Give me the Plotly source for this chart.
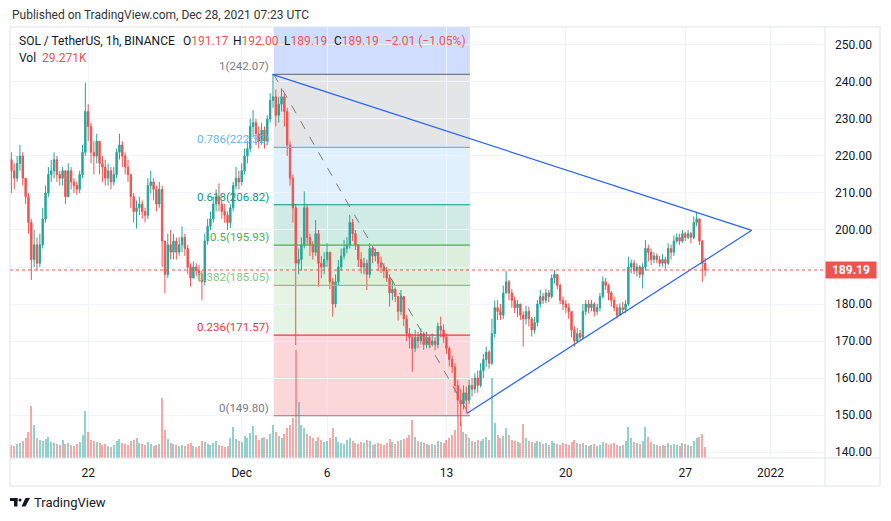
import pandas as pd
import plotly.graph_objects as go

# SOL/USDT, shown here as 4h candles (Nov 17 12:00 -> Dec 28 04:00 UTC)
first_open = 219
close = [216, 214, 218, 220, 214, 209, 202, 192, 196, 191,
         196, 203, 210, 215, 216, 219, 215, 214, 216, 209,
         216, 213, 212, 211, 215, 221, 232, 228, 221, 220,
         224, 218, 217, 214, 216, 213, 215, 221, 223, 220,
         217, 215, 209, 205, 206, 207, 205, 204, 212, 213,
         211, 207, 211, 197, 188, 196, 194, 197, 194, 196,
         198, 195, 190, 187, 190, 189, 188, 186, 197, 201,
         203, 207, 209, 207, 205, 204, 202, 206, 212, 214,
         213, 216, 220, 222, 228, 229, 226, 224, 227, 224,
         230, 235, 236, 231, 234, 236, 232, 223, 214, 206,
         191, 192, 196, 206, 198, 196, 194, 199, 191, 190,
         192, 194, 186, 180, 186, 190, 193, 195, 196, 202,
         199, 196, 192, 190, 191, 188, 195, 193, 194, 191,
         190, 189, 187, 183, 184, 182, 178, 182, 176, 172,
         171, 168, 171, 170, 172, 169, 171, 169, 170, 169,
         174, 173, 171, 168, 165, 163, 158, 154, 153, 156,
         154, 158, 157, 160, 158, 162, 165, 167, 164, 172,
         179, 178, 177, 183, 186, 183, 181, 179, 180, 177,
         176, 178, 176, 173, 175, 180, 182, 181, 183, 182,
         187, 188, 185, 181, 180, 179, 178, 173, 170, 172,
         171, 178, 180, 179, 180, 178, 179, 182, 186, 185,
         183, 181, 179, 177, 179, 178.5, 180, 190, 191, 189,
         190, 188, 190, 195, 194, 192, 193, 192, 191, 192,
         191, 195, 194, 197, 198, 197, 199, 198, 199, 198,
         202, 203, 197, 191, 189.19]
high = [221, 218, 220, 223, 221, 214, 210, 203, 200, 198,
        199, 206, 212, 217, 219, 221, 220, 216, 217, 216,
        218, 217, 214, 213, 216, 223, 239.8, 234, 229, 224,
        226, 224, 220, 219, 218, 217, 217, 222, 226, 224,
        221, 219, 215, 210, 208, 209, 208, 206, 214, 216,
        214, 212, 213, 212, 197, 199, 200, 199, 198, 198,
        201, 199, 196, 191, 191.5, 191, 190.5, 189, 199, 203,
        205, 209, 211, 212.6, 208, 207, 205, 207, 213, 217,
        216, 218, 222, 224, 230, 232.4, 230, 228, 229, 228,
        231, 237, 242.07, 238, 236, 238.3, 237, 233, 224, 215,
        207, 195, 198, 210.4, 207, 199, 197, 202.7, 200, 193,
        194, 196.4, 194, 187, 188, 191.9, 195, 197.3, 198, 204.1,
        203, 200, 196, 194, 192.5, 192, 196.4, 195.5, 195, 194,
        192.8, 191, 190, 188, 186.5, 184.5, 182, 183.8, 182, 177,
        173.5, 172, 173, 172.5, 173.5, 172.5, 172.5, 171.5, 172, 171,
        175, 176.6, 174.5, 172, 168.5, 166, 164, 159.5, 157, 158,
        157.7, 159.5, 160, 161.3, 162, 164, 166.5, 168.5, 167.5, 176,
        181, 181.1, 180, 185, 188.9, 186.5, 184, 182, 181.1, 180,
        178, 179.5, 179.3, 176.5, 176.5, 181.1, 183.8, 183, 184, 183.8,
        188, 189.2, 188, 185.5, 182, 181, 180.2, 178, 174, 173.5,
        173, 180, 181.1, 181, 181.1, 180.5, 180, 183, 187.4, 187,
        185.5, 183.5, 182, 180, 180.2, 180.5, 181, 192.8, 192, 191.9,
        191, 190.5, 191, 197.3, 196, 195, 194, 193.7, 193, 193.5,
        192.8, 196.4, 196, 198.5, 199.1, 199, 200, 199.5, 200, 199.5,
        203.6, 204.9, 203, 197.3, 192.5]
low = [210, 211, 213, 216, 212, 207, 199, 186.5, 190, 189,
       190, 195, 202, 209, 213, 214, 213, 212, 212, 207,
       209, 211, 210, 209.5, 210, 214, 220, 224, 218, 215,
       218, 215, 213, 212, 212, 211, 212, 214, 219, 217,
       215, 213, 206, 202, 200.4, 204, 203, 202, 203, 210,
       208, 205, 206, 190, 182.9, 187, 192, 192, 192, 193,
       194, 193, 188, 184.7, 187, 187.5, 186, 181, 185, 196,
       200, 202, 205, 205, 203, 202, 200, 200.5, 205, 211,
       211, 212, 215, 218, 221, 225, 223, 222, 223, 222,
       223, 229, 233, 228, 229, 232, 228, 220, 212, 202,
       168.9, 188, 189, 195, 196, 193, 192, 193, 184.7, 187,
       188, 190, 184, 176.6, 179, 185, 189, 192, 193.7, 195,
       197, 194.6, 190, 188.3, 188, 183.8, 187, 191, 191.5, 189,
       188.3, 187, 186, 179.3, 181, 180.5, 175.5, 177, 174, 170,
       168, 161.7, 167, 168, 169, 167.6, 168, 168, 168.5, 167.5,
       168, 171, 169.5, 166.5, 163.1, 161.3, 156, 149.8, 147, 151.5,
       150.5, 153, 155, 155.9, 156, 157.5, 160, 163, 162.5, 163.5,
       171, 175.7, 175.7, 176, 182.9, 181, 179, 177.5, 176.5, 175.7,
       168.5, 174.5, 173.9, 171.2, 172, 174, 179, 180, 180.2, 180.5,
       181.5, 185.5, 184, 180, 178.4, 177.5, 176, 171, 168.5, 169.5,
       170.3, 170.5, 177, 177.5, 178, 176.6, 177, 178, 181.5, 183.8,
       181, 179.3, 178, 176.1, 177, 177.5, 177.5, 179.5, 188.3, 188,
       187.4, 187, 184.2, 189, 191.5, 190.5, 191, 191, 190, 190.1,
       189.5, 190.5, 192, 193, 196.4, 196, 196.5, 197, 197.5, 196.4,
       197.5, 201, 196, 186, 187.5]
# volume per candle, thousands of SOL
volume = [130, 120, 140, 150, 170, 200, 260, 520, 330, 200,
          180, 170, 190, 210, 160, 150, 140, 130, 180, 140,
          150, 130, 120, 140, 160, 230, 470, 260, 180, 170,
          160, 150, 130, 140, 120, 110, 130, 170, 190, 150,
          140, 130, 170, 180, 200, 150, 140, 130, 160, 140,
          120, 130, 140, 600, 280, 190, 150, 140, 130, 120,
          130, 120, 140, 150, 120, 110, 120, 170, 160, 140,
          130, 150, 170, 130, 120, 110, 120, 200, 310, 190,
          170, 160, 220, 200, 250, 320, 230, 180, 200, 210,
          190, 240, 330, 260, 220, 200, 240, 300, 330, 400,
          1080, 560, 330, 300, 240, 220, 200, 170, 210, 180,
          160, 170, 200, 300, 210, 160, 150, 140, 180, 200,
          170, 150, 140, 160, 150, 180, 170, 130, 140, 150,
          140, 130, 150, 190, 160, 140, 170, 180, 190, 200,
          230, 380, 210, 170, 160, 150, 140, 130, 140, 130,
          170, 160, 150, 180, 200, 230, 280, 420, 360, 260,
          240, 200, 170, 160, 180, 170, 190, 210, 180, 800,
          350, 230, 200, 220, 300, 230, 180, 170, 160, 150,
          340, 200, 170, 160, 150, 170, 160, 140, 150, 130,
          170, 150, 140, 130, 150, 140, 130, 160, 180, 150,
          140, 150, 130, 120, 130, 140, 120, 130, 160, 150,
          130, 140, 150, 130, 120, 130, 170, 310, 200, 160,
          150, 140, 170, 310, 210, 160, 140, 130, 120, 130,
          120, 150, 130, 140, 130, 120, 150, 140, 130, 120,
          170, 200, 210, 240, 110]

last_price = 189.19

# fib retracement drawn from the Dec high to the Dec 14 low
fib_t0 = "2021-12-02 21:00"
fib_t1 = "2021-12-14 09:00"
fib_levels = ["1", "0.786", "0.618", "0.5", "0.382", "0.236", "0"]
fib_prices = [242.07, 222.32, 206.82, 195.93, 185.05, 171.57, 149.80]
fib_colors = ["#787b86", "#64b5f6", "#089981", "#4caf50", "#81c784", "#f23645", "#787b86"]
fib_fills = ["rgba(120,123,134,0.2)", "rgba(100,181,246,0.2)", "rgba(8,153,129,0.2)",
             "rgba(76,175,80,0.2)", "rgba(129,199,132,0.2)", "rgba(242,54,69,0.2)"]

# symmetrical triangle
tri_upper = (["2021-12-02 19:00", "2021-12-30 21:30"], [242.07, 199.9])
tri_lower = (["2021-12-14 04:30", "2021-12-30 21:30"], [150.4, 199.9])

tick_dates = ["2021-11-22", "2021-12-01", "2021-12-06", "2021-12-13", "2021-12-20", "2021-12-27", "2022-01-01"]
tick_text = ["22", "Dec", "6", "13", "20", "27", "2022"]
price_ticks = list(range(140, 260, 10))

UP = "#26a69a"
DOWN = "#ef5350"
TEXT = "#131722"
FONT = "Roboto"

dates = pd.date_range("2021-11-17 12:00", periods=len(close), freq="4h")
opens = [first_open] + close[:-1]
vol_colors = ["rgba(38,166,154,0.5)" if c >= o else "rgba(239,83,80,0.5)" for o, c in zip(opens, close)]

y_lo, y_hi = 138.38, 254.86
# the price label hides the 190 tick label, as on the original
price_text = ["" if v == 190 else "{:.2f}".format(v) for v in price_ticks]


def px(x):
    # page pixel -> paper x (plot area spans page x 10..825)
    return (x - 10) / 815


def py(y):
    # page pixel -> paper y (plot area spans page y 27..458)
    return (458 - y) / 431


def note(x, y, text, size=12, color=TEXT):
    fig.add_annotation(xref="paper", yref="paper", x=px(x), y=py(y), xanchor="left", yanchor="middle",
                       showarrow=False, text=text, font=dict(family=FONT, size=size, color=color))


fig = go.Figure()
fig.add_trace(go.Bar(x=dates, y=volume, marker_color=vol_colors, marker_line_width=0,
                     width=4 * 3600 * 1000 * 0.7, yaxis="y2", hoverinfo="skip"))
fig.add_trace(go.Candlestick(x=dates, open=opens, high=high, low=low, close=close,
                             increasing=dict(line=dict(color=UP, width=1), fillcolor=UP),
                             decreasing=dict(line=dict(color=DOWN, width=1), fillcolor=DOWN),
                             whiskerwidth=0))

# fib bands
fig.add_shape(type="rect", x0=fib_t0, x1=fib_t1, y0=fib_prices[0], y1=y_hi,
              fillcolor="rgba(41,98,255,0.22)", line_width=0, layer="below")
for i in range(len(fib_fills)):
    fig.add_shape(type="rect", x0=fib_t0, x1=fib_t1, y0=fib_prices[i + 1], y1=fib_prices[i],
                  fillcolor=fib_fills[i], line_width=0, layer="below")
for lvl, p, col in zip(fib_levels, fib_prices, fib_colors):
    fig.add_shape(type="line", x0=fib_t0, x1=fib_t1, y0=p, y1=p, line=dict(color=col, width=1.2))
    fig.add_annotation(x=fib_t0, y=p, text="{}({:.2f})".format(lvl, p), showarrow=False,
                       xanchor="right", yanchor="bottom", xshift=-3, yshift=-1,
                       font=dict(family=FONT, size=11.5, color=col))
fig.add_shape(type="line", x0=fib_t0, x1=fib_t1, y0=fib_prices[0], y1=fib_prices[-1],
              line=dict(color="#787b86", width=1, dash="dash"))

# triangle
for xs, ys in (tri_upper, tri_lower):
    fig.add_shape(type="line", x0=xs[0], x1=xs[1], y0=ys[0], y1=ys[1], line=dict(color="#2962ff", width=1.2))

# last price line + label
fig.add_shape(type="line", xref="paper", x0=0, x1=1, y0=last_price, y1=last_price,
              line=dict(color=DOWN, width=1, dash="dot"))
fig.add_annotation(xref="paper", x=1, y=last_price, text="<b>{:.2f}</b>".format(last_price), showarrow=False,
                   xanchor="left", yanchor="middle", bgcolor=DOWN, width=48, height=14, borderpad=1,
                   font=dict(family=FONT, size=12, color="white"))

# frame
frame = "#e0e3eb"
fig.add_shape(type="rect", xref="paper", yref="paper", x0=0, x1=px(880), y0=py(486), y1=1,
              line=dict(color=frame, width=1))
fig.add_shape(type="line", xref="paper", yref="paper", x0=1, x1=1, y0=py(486), y1=1, line=dict(color=frame, width=1))
fig.add_shape(type="line", xref="paper", yref="paper", x0=0, x1=px(880), y0=0, y1=0, line=dict(color=frame, width=1))

# header texts
note(10, 15, "Published on TradingView.com, Dec 28, 2021 07:23 UTC", color="#333")
note(17, 41, "SOL / TetherUS, 1h, BINANCE")
for x0, lab, val in [(181, "O", "191.17"), (231, "H", "192.00"), (282, "L", "189.19"),
                     (332, "C", "189.19"), (383, "", "\u22122.01 (\u22121.05%)")]:
    note(x0, 41, '{}<span style="color:{}">{}</span>'.format(lab, DOWN, val))
note(17, 58, 'Vol  <span style="color:{}">29.271K</span>'.format(DOWN))

# TradingView logo
logo = "#131722"
fig.add_shape(type="rect", xref="paper", yref="paper", x0=px(10), x1=px(17.5), y0=py(501), y1=py(498),
              fillcolor=logo, line_width=0)
fig.add_shape(type="rect", xref="paper", yref="paper", x0=px(14), x1=px(17.5), y0=py(506.5), y1=py(498),
              fillcolor=logo, line_width=0)
fig.add_shape(type="circle", xref="paper", yref="paper", x0=px(18.5), x1=px(21.5), y0=py(501.5), y1=py(498.5),
              fillcolor=logo, line_width=0)
fig.add_shape(type="path", xref="paper", yref="paper", fillcolor=logo, line_width=0,
              path="M {} {} L {} {} L {} {} L {} {} Z".format(px(25.5), py(498), px(30), py(498),
                                                            px(25.5), py(506.5), px(21.5), py(506.5)))
note(32, 503, "TradingView", size=13)

fig.update_layout(
    width=891, height=521,
    # the page body adds an 8px offset, so margins are measured from (8, 8)
    margin=dict(l=2, r=74, t=19, b=71),
    paper_bgcolor="white", plot_bgcolor="white",
    showlegend=False,
    xaxis=dict(range=["2021-11-17 10:00", "2022-01-04 04:36"], rangeslider_visible=False,
               tickvals=tick_dates, ticktext=tick_text, showgrid=True, gridcolor="#f0f3fa",
               zeroline=False, showline=False, ticks="", ticklabelstandoff=6,
               tickfont=dict(family=FONT, size=12, color=TEXT)),
    yaxis=dict(range=[y_lo, y_hi], side="right", tickvals=price_ticks, ticktext=price_text,
               showgrid=True, gridcolor="#f0f3fa",
               zeroline=False, showline=False, ticks="", ticklabelstandoff=9,
               tickfont=dict(family=FONT, size=12, color=TEXT)),
    yaxis2=dict(overlaying="y", range=[0, 4310], visible=False),
    bargap=0,
)

fig.write_html("out.html")
